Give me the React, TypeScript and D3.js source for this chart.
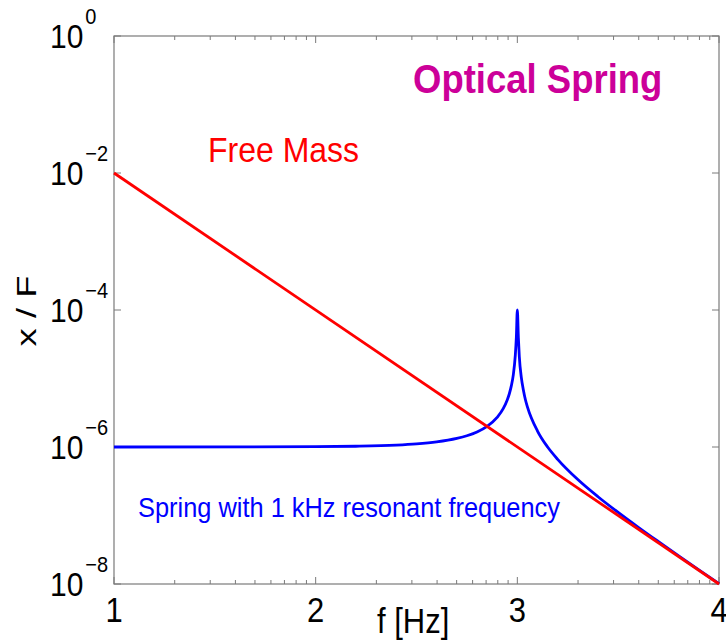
import React, { useEffect, useRef } from "react";
import * as d3 from "d3";

// frequency in Hz, response x/F
const freeMassFreq = [10, 10000];
const freeMassResp = [1e-2, 1e-8];

const springFreq = [
  10, 100, 158, 251, 316, 398, 501, 562, 631, 708, 794, 851, 891, 912, 933,
  955, 977, 989, 1000, 1012, 1023, 1047, 1072, 1096, 1122, 1259, 1413, 1585,
  1995, 2512, 3162, 3981, 5012, 6310, 7943, 10000,
];
const springResp = [
  1.0e-6, 1.01e-6, 1.026e-6, 1.067e-6, 1.111e-6, 1.188e-6, 1.335e-6, 1.46e-6,
  1.661e-6, 2.005e-6, 2.71e-6, 3.63e-6, 4.86e-6, 5.94e-6, 7.73e-6, 1.13e-5,
  2.17e-5, 4.02e-5, 1.0e-4, 3.94e-5, 2.08e-5, 1.03e-5, 6.75e-6, 4.94e-6,
  3.86e-6, 1.71e-6, 1.0e-6, 6.61e-7, 3.35e-7, 1.88e-7, 1.11e-7, 6.73e-8,
  4.15e-8, 2.58e-8, 1.61e-8, 1.01e-8,
];

const xTickValues = [10, 100, 1000, 10000];
const xTickLabels = ["1", "2", "3", "4"];
const yTickValues = [1, 1e-2, 1e-4, 1e-6, 1e-8];
const yTickExps = ["0", "\u22122", "\u22124", "\u22126", "\u22128"];

const FONT = "'Liberation Sans', Arial, Helvetica, sans-serif";

export default function App() {
  const svgRef = useRef<SVGSVGElement>(null);
  const width = 726;
  const height = 642;

  useEffect(() => {
    if (!svgRef.current) return;
    const svg = d3.select(svgRef.current);
    svg.selectAll("*").remove();

    const left = 114;
    const right = 719;
    const top = 36;
    const bottom = 584;

    const x = d3.scaleLog().domain([10, 10000]).range([left, right]);
    const y = d3.scaleLog().domain([1e-8, 1]).range([bottom, top]);

    svg.append("rect").attr("width", width).attr("height", height).attr("fill", "#fff");

    const axisColor = "#7a7a7a";

    // frame
    svg
      .append("rect")
      .attr("x", left)
      .attr("y", top)
      .attr("width", right - left)
      .attr("height", bottom - top)
      .attr("fill", "none")
      .attr("stroke", axisColor)
      .attr("stroke-width", 1.2);

    // x ticks (major + minor), bottom and top
    const minor: number[] = [];
    for (let d = 10; d < 10000; d *= 10) {
      for (let k = 2; k <= 9; k++) minor.push(d * k);
    }
    const tg = svg.append("g").attr("stroke", axisColor).attr("stroke-width", 1);
    minor.forEach((v) => {
      tg.append("line").attr("x1", x(v)).attr("x2", x(v)).attr("y1", bottom).attr("y2", bottom - 4);
      tg.append("line").attr("x1", x(v)).attr("x2", x(v)).attr("y1", top).attr("y2", top + 4);
    });
    xTickValues.forEach((v) => {
      tg.append("line").attr("x1", x(v)).attr("x2", x(v)).attr("y1", bottom).attr("y2", bottom - 7);
      tg.append("line").attr("x1", x(v)).attr("x2", x(v)).attr("y1", top).attr("y2", top + 7);
    });
    yTickValues.forEach((v) => {
      tg.append("line").attr("x1", left).attr("x2", left + 7).attr("y1", y(v)).attr("y2", y(v));
      tg.append("line").attr("x1", right).attr("x2", right - 7).attr("y1", y(v)).attr("y2", y(v));
    });

    // x tick labels
    xTickValues.forEach((v, i) => {
      svg
        .append("text")
        .attr("transform", `translate(${x(v)},622) scale(1,1.15)`)
        .attr("text-anchor", "middle")
        .attr("font-family", FONT)
        .attr("font-size", 31)
        .attr("fill", "#000")
        .text(xTickLabels[i]);
    });

    // y tick labels 10^n
    yTickValues.forEach((v, i) => {
      const t = svg
        .append("text")
        .attr("transform", `translate(50,${y(v) + 12}) scale(1,1.12)`)
        .attr("font-family", FONT)
        .attr("font-size", 30)
        .attr("fill", "#000");
      t.append("tspan").text("10");
      t.append("tspan")
        .attr("dx", 2)
        .attr("dy", -21)
        .attr("font-size", 20)
        .text(yTickExps[i]);
    });

    // lines
    const line = d3
      .line<[number, number]>()
      .x((d) => x(d[0]))
      .y((d) => y(d[1]))
      .curve(d3.curveMonotoneX);

    const springData = springFreq.map((f, i) => [f, springResp[i]] as [number, number]);
    const freeData = freeMassFreq.map((f, i) => [f, freeMassResp[i]] as [number, number]);

    svg
      .append("path")
      .datum(springData)
      .attr("fill", "none")
      .attr("stroke", "#0000ff")
      .attr("stroke-width", 2.8)
      .attr("stroke-linejoin", "round")
      .attr("d", line);

    svg
      .append("path")
      .datum(freeData)
      .attr("fill", "none")
      .attr("stroke", "#ff0000")
      .attr("stroke-width", 2.8)
      .attr("d", line);

    // annotations
    svg
      .append("text")
      .attr("transform", `translate(208,162) scale(1,1.1)`)
      .attr("font-family", FONT)
      .attr("font-size", 32)
      .attr("fill", "#ff0000")
      .text("Free Mass");

    svg
      .append("text")
      .attr("transform", `translate(413,93) scale(1,1.1)`)
      .attr("font-family", FONT)
      .attr("font-size", 36.5)
      .attr("font-weight", "bold")
      .attr("fill", "#cc0099")
      .text("Optical Spring");

    svg
      .append("text")
      .attr("transform", `translate(138,517) scale(1,1.1)`)
      .attr("font-family", FONT)
      .attr("font-size", 25.4)
      .attr("fill", "#0000ff")
      .text("Spring with 1 kHz resonant frequency");

    // axis labels
    svg
      .append("text")
      .attr("transform", `translate(377,633) scale(1,1.12)`)
      .attr("font-family", FONT)
      .attr("font-size", 31)
      .attr("fill", "#000")
      .text("f [Hz]");

    svg
      .append("text")
      .attr("transform", `translate(36,311) rotate(-90) scale(1.3,1)`)
      .attr("text-anchor", "middle")
      .attr("font-family", FONT)
      .attr("font-size", 28)
      .attr("fill", "#000")
      .text("x / F");
  }, []);

  return (
    <svg
      ref={svgRef}
      width={width}
      height={height}
      style={{ position: "absolute", left: 0, top: 0 }}
    />
  );
}
